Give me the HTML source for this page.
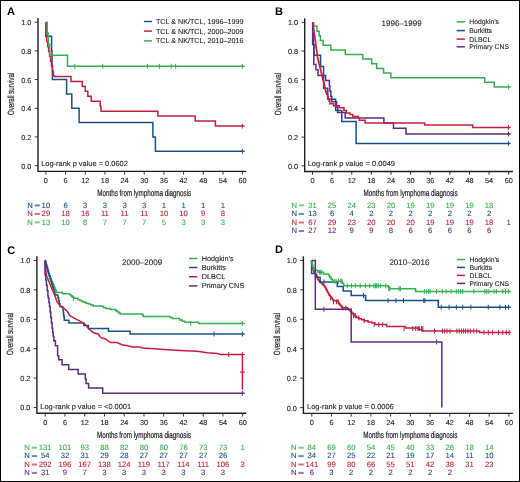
<!DOCTYPE html><html><head><meta charset="utf-8"><style>html,body{margin:0;padding:0;background:#fff}svg{display:block;will-change:transform}text{font-family:"Liberation Sans",sans-serif;text-rendering:geometricPrecision}</style></head><body>
<svg width="520" height="482" viewBox="0 0 520 482">
<rect x="0.5" y="0.5" width="519" height="481" fill="#fff" stroke="#000" stroke-width="1"/>
<text x="7.1" y="15.0" font-size="11" font-weight="bold" fill="#000">A</text>
<path d="M38 18.1 V171.4 H246.3" fill="none" stroke="#231f20" stroke-width="1.4"/>
<path d="M34.8 165.6 H38" stroke="#231f20" stroke-width="0.9"/>
<text x="31.4" y="168.6" font-size="7.3" text-anchor="end" fill="#231f20" stroke="#231f20" stroke-width="0.1" >0.0</text>
<path d="M34.8 136.92 H38" stroke="#231f20" stroke-width="0.9"/>
<text x="31.4" y="139.92" font-size="7.3" text-anchor="end" fill="#231f20" stroke="#231f20" stroke-width="0.1" >0.2</text>
<path d="M34.8 108.24 H38" stroke="#231f20" stroke-width="0.9"/>
<text x="31.4" y="111.24" font-size="7.3" text-anchor="end" fill="#231f20" stroke="#231f20" stroke-width="0.1" >0.4</text>
<path d="M34.8 79.56 H38" stroke="#231f20" stroke-width="0.9"/>
<text x="31.4" y="82.56" font-size="7.3" text-anchor="end" fill="#231f20" stroke="#231f20" stroke-width="0.1" >0.6</text>
<path d="M34.8 50.88 H38" stroke="#231f20" stroke-width="0.9"/>
<text x="31.4" y="53.88" font-size="7.3" text-anchor="end" fill="#231f20" stroke="#231f20" stroke-width="0.1" >0.8</text>
<path d="M34.8 22.2 H38" stroke="#231f20" stroke-width="0.9"/>
<text x="31.4" y="25.2" font-size="7.3" text-anchor="end" fill="#231f20" stroke="#231f20" stroke-width="0.1" >1.0</text>
<path d="M45.9 171.4 V174.6" stroke="#231f20" stroke-width="0.9"/>
<text x="45.9" y="183.1" font-size="7.3" text-anchor="middle" fill="#231f20" stroke="#231f20" stroke-width="0.1" >0</text>
<path d="M65.57 171.4 V174.6" stroke="#231f20" stroke-width="0.9"/>
<text x="65.57" y="183.1" font-size="7.3" text-anchor="middle" fill="#231f20" stroke="#231f20" stroke-width="0.1" >6</text>
<path d="M85.24 171.4 V174.6" stroke="#231f20" stroke-width="0.9"/>
<text x="85.24" y="183.1" font-size="7.3" text-anchor="middle" fill="#231f20" stroke="#231f20" stroke-width="0.1" >12</text>
<path d="M104.91 171.4 V174.6" stroke="#231f20" stroke-width="0.9"/>
<text x="104.91" y="183.1" font-size="7.3" text-anchor="middle" fill="#231f20" stroke="#231f20" stroke-width="0.1" >18</text>
<path d="M124.58 171.4 V174.6" stroke="#231f20" stroke-width="0.9"/>
<text x="124.58" y="183.1" font-size="7.3" text-anchor="middle" fill="#231f20" stroke="#231f20" stroke-width="0.1" >24</text>
<path d="M144.25 171.4 V174.6" stroke="#231f20" stroke-width="0.9"/>
<text x="144.25" y="183.1" font-size="7.3" text-anchor="middle" fill="#231f20" stroke="#231f20" stroke-width="0.1" >30</text>
<path d="M163.92 171.4 V174.6" stroke="#231f20" stroke-width="0.9"/>
<text x="163.92" y="183.1" font-size="7.3" text-anchor="middle" fill="#231f20" stroke="#231f20" stroke-width="0.1" >36</text>
<path d="M183.59 171.4 V174.6" stroke="#231f20" stroke-width="0.9"/>
<text x="183.59" y="183.1" font-size="7.3" text-anchor="middle" fill="#231f20" stroke="#231f20" stroke-width="0.1" >42</text>
<path d="M203.26 171.4 V174.6" stroke="#231f20" stroke-width="0.9"/>
<text x="203.26" y="183.1" font-size="7.3" text-anchor="middle" fill="#231f20" stroke="#231f20" stroke-width="0.1" >48</text>
<path d="M222.93 171.4 V174.6" stroke="#231f20" stroke-width="0.9"/>
<text x="222.93" y="183.1" font-size="7.3" text-anchor="middle" fill="#231f20" stroke="#231f20" stroke-width="0.1" >54</text>
<path d="M242.6 171.4 V174.6" stroke="#231f20" stroke-width="0.9"/>
<text x="242.6" y="183.1" font-size="7.3" text-anchor="middle" fill="#231f20" stroke="#231f20" stroke-width="0.1" >60</text>
<text transform="translate(144.25 196) scale(0.6986 1)" font-size="9" text-anchor="middle" fill="#231f20" stroke="#231f20" stroke-width="0.22">Months from lymphoma diagnosis</text>
<text transform="translate(14.2 93.9) rotate(-90) scale(0.6876 1)" font-size="9" text-anchor="middle" fill="#231f20" stroke="#231f20" stroke-width="0.18">Overall survival</text>
<path d="M143.9 21.5 H151.9" stroke="#1a5088" stroke-width="1.5"/>
<text x="155.9" y="24" font-size="7.2" text-anchor="start" fill="#231f20" stroke="#231f20" stroke-width="0.1" >TCL &amp; NK/TCL, 1996–1999</text>
<path d="M143.9 31.1 H151.9" stroke="#c81e3e" stroke-width="1.5"/>
<text x="155.9" y="33.6" font-size="7.2" text-anchor="start" fill="#231f20" stroke="#231f20" stroke-width="0.1" >TCL &amp; NK/TCL, 2000–2009</text>
<path d="M143.9 40.9 H151.9" stroke="#36b04c" stroke-width="1.5"/>
<text x="155.9" y="43.4" font-size="7.2" text-anchor="start" fill="#231f20" stroke="#231f20" stroke-width="0.1" >TCL &amp; NK/TCL, 2010–2016</text>
<text x="41.2" y="166.1" font-size="7.3" fill="#231f20" stroke="#231f20" stroke-width="0.1" textLength="86.7" lengthAdjust="spacingAndGlyphs">Log-rank p value = 0.0602</text>
<path d="M46.4 22.2 L46.8 22.2 L46.8 36.3 L51.6 36.3 L51.6 50.7 L52 50.7 L52 65 L52.4 65 L52.4 79.6 L66.6 79.6 L66.6 93.9 L71.8 93.9 L71.8 108.3 L79.1 108.3 L79.1 122.6 L152.9 122.6 L152.9 137 L155.4 137 L155.4 151.3 L242.3 151.3" fill="none" stroke="#1a5088" stroke-width="1.5" stroke-linejoin="miter"/>
<path d="M242.3 148.8 V153.8" stroke="#1a5088" stroke-width="1.0"/>
<path d="M45.8 22.2 L45.8 36.6 L46.75 36.6 L46.75 41.54 L47.7 41.54 L47.7 46.48 L48.65 46.48 L48.65 51.42 L49.6 51.42 L49.6 56.36 L50.55 56.36 L50.55 61.3 L51.5 61.3 L51.5 66.24 L52.45 66.24 L52.45 71.18 L53.4 71.18 L53.4 76.12 L54.6 76.12 L54.6 76.4 L71 76.4 L71 81.4 L82.3 81.4 L82.3 86.4 L85.3 86.4 L85.3 91.3 L87.8 91.3 L87.8 96.3 L91.3 96.3 L91.3 101.3 L100.2 101.3 L100.2 106.2 L101 106.2 L101 111.2 L157.9 111.2 L157.9 116.1 L195.2 116.1 L195.2 121.1 L215.4 121.1 L215.4 126.1 L242.3 126.1" fill="none" stroke="#c81e3e" stroke-width="1.5" stroke-linejoin="miter"/>
<path d="M242.3 123.6 V128.6" stroke="#c81e3e" stroke-width="1.0"/>
<path d="M47.1 22.2 L47.1 33.2 L48.3 33.2 L48.3 44.3 L49.6 44.3 L49.6 55.3 L67.5 55.3 L67.5 66.3 L242.3 66.3" fill="none" stroke="#36b04c" stroke-width="1.5" stroke-linejoin="miter"/>
<path d="M74.8 63.8 V68.8" stroke="#36b04c" stroke-width="1.0"/>
<path d="M102.7 63.8 V68.8" stroke="#36b04c" stroke-width="1.0"/>
<path d="M147.4 63.8 V68.8" stroke="#36b04c" stroke-width="1.0"/>
<path d="M159.4 63.8 V68.8" stroke="#36b04c" stroke-width="1.0"/>
<path d="M171.1 63.8 V68.8" stroke="#36b04c" stroke-width="1.0"/>
<path d="M175.6 63.8 V68.8" stroke="#36b04c" stroke-width="1.0"/>
<path d="M242.3 63.8 V68.8" stroke="#36b04c" stroke-width="1.0"/>
<path d="M241.8 151.3 H244.6" stroke="#1a5088" stroke-width="1.5"/>
<path d="M241.8 126.1 H244.6" stroke="#c81e3e" stroke-width="1.5"/>
<path d="M241.8 66.3 H244.6" stroke="#36b04c" stroke-width="1.5"/>
<text x="27.3" y="207.7" font-size="7.7" text-anchor="start" fill="#1a5088" stroke="#1a5088" stroke-width="0.1" >N</text>
<rect x="34.6" y="204.4" width="5.2" height="2.0" fill="#1a5088" opacity="0.65"/>
<text x="45.9" y="207.7" font-size="7.7" text-anchor="middle" fill="#1a5088" stroke="#1a5088" stroke-width="0.1" >10</text>
<text x="65.57" y="207.7" font-size="7.7" text-anchor="middle" fill="#1a5088" stroke="#1a5088" stroke-width="0.1" >6</text>
<text x="85.24" y="207.7" font-size="7.7" text-anchor="middle" fill="#1a5088" stroke="#1a5088" stroke-width="0.1" >3</text>
<text x="104.91" y="207.7" font-size="7.7" text-anchor="middle" fill="#1a5088" stroke="#1a5088" stroke-width="0.1" >3</text>
<text x="124.58" y="207.7" font-size="7.7" text-anchor="middle" fill="#1a5088" stroke="#1a5088" stroke-width="0.1" >3</text>
<text x="144.25" y="207.7" font-size="7.7" text-anchor="middle" fill="#1a5088" stroke="#1a5088" stroke-width="0.1" >3</text>
<text x="163.92" y="207.7" font-size="7.7" text-anchor="middle" fill="#1a5088" stroke="#1a5088" stroke-width="0.1" >1</text>
<text x="183.59" y="207.7" font-size="7.7" text-anchor="middle" fill="#1a5088" stroke="#1a5088" stroke-width="0.1" >1</text>
<text x="203.26" y="207.7" font-size="7.7" text-anchor="middle" fill="#1a5088" stroke="#1a5088" stroke-width="0.1" >1</text>
<text x="222.93" y="207.7" font-size="7.7" text-anchor="middle" fill="#1a5088" stroke="#1a5088" stroke-width="0.1" >1</text>
<text x="27.3" y="216.2" font-size="7.7" text-anchor="start" fill="#c81e3e" stroke="#c81e3e" stroke-width="0.1" >N</text>
<rect x="34.6" y="212.9" width="5.2" height="2.0" fill="#c81e3e" opacity="0.65"/>
<text x="45.9" y="216.2" font-size="7.7" text-anchor="middle" fill="#c81e3e" stroke="#c81e3e" stroke-width="0.1" >29</text>
<text x="65.57" y="216.2" font-size="7.7" text-anchor="middle" fill="#c81e3e" stroke="#c81e3e" stroke-width="0.1" >18</text>
<text x="85.24" y="216.2" font-size="7.7" text-anchor="middle" fill="#c81e3e" stroke="#c81e3e" stroke-width="0.1" >16</text>
<text x="104.91" y="216.2" font-size="7.7" text-anchor="middle" fill="#c81e3e" stroke="#c81e3e" stroke-width="0.1" >11</text>
<text x="124.58" y="216.2" font-size="7.7" text-anchor="middle" fill="#c81e3e" stroke="#c81e3e" stroke-width="0.1" >11</text>
<text x="144.25" y="216.2" font-size="7.7" text-anchor="middle" fill="#c81e3e" stroke="#c81e3e" stroke-width="0.1" >11</text>
<text x="163.92" y="216.2" font-size="7.7" text-anchor="middle" fill="#c81e3e" stroke="#c81e3e" stroke-width="0.1" >10</text>
<text x="183.59" y="216.2" font-size="7.7" text-anchor="middle" fill="#c81e3e" stroke="#c81e3e" stroke-width="0.1" >10</text>
<text x="203.26" y="216.2" font-size="7.7" text-anchor="middle" fill="#c81e3e" stroke="#c81e3e" stroke-width="0.1" >9</text>
<text x="222.93" y="216.2" font-size="7.7" text-anchor="middle" fill="#c81e3e" stroke="#c81e3e" stroke-width="0.1" >8</text>
<text x="27.3" y="224.7" font-size="7.7" text-anchor="start" fill="#36b04c" stroke="#36b04c" stroke-width="0.1" >N</text>
<rect x="34.6" y="221.4" width="5.2" height="2.0" fill="#36b04c" opacity="0.65"/>
<text x="45.9" y="224.7" font-size="7.7" text-anchor="middle" fill="#36b04c" stroke="#36b04c" stroke-width="0.1" >13</text>
<text x="65.57" y="224.7" font-size="7.7" text-anchor="middle" fill="#36b04c" stroke="#36b04c" stroke-width="0.1" >10</text>
<text x="85.24" y="224.7" font-size="7.7" text-anchor="middle" fill="#36b04c" stroke="#36b04c" stroke-width="0.1" >8</text>
<text x="104.91" y="224.7" font-size="7.7" text-anchor="middle" fill="#36b04c" stroke="#36b04c" stroke-width="0.1" >7</text>
<text x="124.58" y="224.7" font-size="7.7" text-anchor="middle" fill="#36b04c" stroke="#36b04c" stroke-width="0.1" >7</text>
<text x="144.25" y="224.7" font-size="7.7" text-anchor="middle" fill="#36b04c" stroke="#36b04c" stroke-width="0.1" >7</text>
<text x="163.92" y="224.7" font-size="7.7" text-anchor="middle" fill="#36b04c" stroke="#36b04c" stroke-width="0.1" >5</text>
<text x="183.59" y="224.7" font-size="7.7" text-anchor="middle" fill="#36b04c" stroke="#36b04c" stroke-width="0.1" >3</text>
<text x="203.26" y="224.7" font-size="7.7" text-anchor="middle" fill="#36b04c" stroke="#36b04c" stroke-width="0.1" >3</text>
<text x="222.93" y="224.7" font-size="7.7" text-anchor="middle" fill="#36b04c" stroke="#36b04c" stroke-width="0.1" >3</text>
<text x="275.1" y="15.0" font-size="11" font-weight="bold" fill="#000">B</text>
<path d="M304.7 18.3 V171.5 H512.9" fill="none" stroke="#231f20" stroke-width="1.4"/>
<path d="M301.5 165.8 H304.7" stroke="#231f20" stroke-width="0.9"/>
<text x="298.1" y="168.8" font-size="7.3" text-anchor="end" fill="#231f20" stroke="#231f20" stroke-width="0.1" >0.0</text>
<path d="M301.5 137.1 H304.7" stroke="#231f20" stroke-width="0.9"/>
<text x="298.1" y="140.1" font-size="7.3" text-anchor="end" fill="#231f20" stroke="#231f20" stroke-width="0.1" >0.2</text>
<path d="M301.5 108.4 H304.7" stroke="#231f20" stroke-width="0.9"/>
<text x="298.1" y="111.4" font-size="7.3" text-anchor="end" fill="#231f20" stroke="#231f20" stroke-width="0.1" >0.4</text>
<path d="M301.5 79.7 H304.7" stroke="#231f20" stroke-width="0.9"/>
<text x="298.1" y="82.7" font-size="7.3" text-anchor="end" fill="#231f20" stroke="#231f20" stroke-width="0.1" >0.6</text>
<path d="M301.5 51 H304.7" stroke="#231f20" stroke-width="0.9"/>
<text x="298.1" y="54" font-size="7.3" text-anchor="end" fill="#231f20" stroke="#231f20" stroke-width="0.1" >0.8</text>
<path d="M301.5 22.3 H304.7" stroke="#231f20" stroke-width="0.9"/>
<text x="298.1" y="25.3" font-size="7.3" text-anchor="end" fill="#231f20" stroke="#231f20" stroke-width="0.1" >1.0</text>
<path d="M312.5 171.5 V174.7" stroke="#231f20" stroke-width="0.9"/>
<text x="312.5" y="183.2" font-size="7.3" text-anchor="middle" fill="#231f20" stroke="#231f20" stroke-width="0.1" >0</text>
<path d="M332.12 171.5 V174.7" stroke="#231f20" stroke-width="0.9"/>
<text x="332.12" y="183.2" font-size="7.3" text-anchor="middle" fill="#231f20" stroke="#231f20" stroke-width="0.1" >6</text>
<path d="M351.74 171.5 V174.7" stroke="#231f20" stroke-width="0.9"/>
<text x="351.74" y="183.2" font-size="7.3" text-anchor="middle" fill="#231f20" stroke="#231f20" stroke-width="0.1" >12</text>
<path d="M371.36 171.5 V174.7" stroke="#231f20" stroke-width="0.9"/>
<text x="371.36" y="183.2" font-size="7.3" text-anchor="middle" fill="#231f20" stroke="#231f20" stroke-width="0.1" >18</text>
<path d="M390.98 171.5 V174.7" stroke="#231f20" stroke-width="0.9"/>
<text x="390.98" y="183.2" font-size="7.3" text-anchor="middle" fill="#231f20" stroke="#231f20" stroke-width="0.1" >24</text>
<path d="M410.6 171.5 V174.7" stroke="#231f20" stroke-width="0.9"/>
<text x="410.6" y="183.2" font-size="7.3" text-anchor="middle" fill="#231f20" stroke="#231f20" stroke-width="0.1" >30</text>
<path d="M430.22 171.5 V174.7" stroke="#231f20" stroke-width="0.9"/>
<text x="430.22" y="183.2" font-size="7.3" text-anchor="middle" fill="#231f20" stroke="#231f20" stroke-width="0.1" >36</text>
<path d="M449.84 171.5 V174.7" stroke="#231f20" stroke-width="0.9"/>
<text x="449.84" y="183.2" font-size="7.3" text-anchor="middle" fill="#231f20" stroke="#231f20" stroke-width="0.1" >42</text>
<path d="M469.46 171.5 V174.7" stroke="#231f20" stroke-width="0.9"/>
<text x="469.46" y="183.2" font-size="7.3" text-anchor="middle" fill="#231f20" stroke="#231f20" stroke-width="0.1" >48</text>
<path d="M489.08 171.5 V174.7" stroke="#231f20" stroke-width="0.9"/>
<text x="489.08" y="183.2" font-size="7.3" text-anchor="middle" fill="#231f20" stroke="#231f20" stroke-width="0.1" >54</text>
<path d="M508.7 171.5 V174.7" stroke="#231f20" stroke-width="0.9"/>
<text x="508.7" y="183.2" font-size="7.3" text-anchor="middle" fill="#231f20" stroke="#231f20" stroke-width="0.1" >60</text>
<text transform="translate(410.6 196.1) scale(0.6986 1)" font-size="9" text-anchor="middle" fill="#231f20" stroke="#231f20" stroke-width="0.22">Months from lymphoma diagnosis</text>
<text transform="translate(280.9 94.05) rotate(-90) scale(0.6876 1)" font-size="9" text-anchor="middle" fill="#231f20" stroke="#231f20" stroke-width="0.18">Overall survival</text>
<text x="381.6" y="26.1" font-size="8.0" fill="#231f20" stroke="#231f20" stroke-width="0.1">1996–1999</text>
<path d="M456.6 21.9 H464.9" stroke="#36b04c" stroke-width="1.5"/>
<text x="469.3" y="24.4" font-size="6.8" text-anchor="start" fill="#231f20" stroke="#231f20" stroke-width="0.1" >Hodgkin’s</text>
<path d="M456.6 30.6 H464.9" stroke="#1a5088" stroke-width="1.5"/>
<text x="469.3" y="33.1" font-size="6.8" text-anchor="start" fill="#231f20" stroke="#231f20" stroke-width="0.1" >Burkitts</text>
<path d="M456.6 39.1 H464.9" stroke="#c81e3e" stroke-width="1.5"/>
<text x="469.3" y="41.6" font-size="6.8" text-anchor="start" fill="#231f20" stroke="#231f20" stroke-width="0.1" >DLBCL</text>
<path d="M456.6 46.8 H464.9" stroke="#5e2c82" stroke-width="1.5"/>
<text x="469.3" y="49.3" font-size="6.8" text-anchor="start" fill="#231f20" stroke="#231f20" stroke-width="0.1" >Primary CNS</text>
<text x="307.7" y="166.3" font-size="7.3" fill="#231f20" stroke="#231f20" stroke-width="0.1" textLength="87.3" lengthAdjust="spacingAndGlyphs">Log-rank p value = 0.0049</text>
<path d="M313.8 22.3 L313.8 26.3 L317 26.3 L317 31.3 L319.2 31.3 L319.2 35.8 L320.4 35.8 L320.4 40.4 L323.1 40.4 L323.1 45.2 L330.8 45.2 L330.8 50 L345.3 50 L345.3 54.5 L362.8 54.5 L362.8 59.1 L371.7 59.1 L371.7 63.8 L376.7 63.8 L376.7 68.5 L383.6 68.5 L383.6 73.1 L390.9 73.1 L390.9 77.7 L484.7 77.7 L484.7 82.3 L494.3 82.3 L494.3 87 L508.4 87" fill="none" stroke="#36b04c" stroke-width="1.5" stroke-linejoin="miter"/>
<path d="M508.4 84.5 V89.5" stroke="#36b04c" stroke-width="1.0"/>
<path d="M312.8 22.3 L312.8 33.3 L313.4 33.3 L313.4 44.4 L314 44.4 L314 55.3 L320.6 55.3 L320.6 66.5 L323.6 66.5 L323.6 88.3 L327.8 88.3 L327.8 99.3 L335.6 99.3 L335.6 110.4 L341.8 110.4 L341.8 121.5 L356.1 121.5 L356.1 143.5 L508.4 143.5" fill="none" stroke="#1a5088" stroke-width="1.5" stroke-linejoin="miter"/>
<path d="M508.4 141 V146" stroke="#1a5088" stroke-width="1.0"/>
<path d="M312.6 22.3 L312.6 44.6 L313.8 44.6 L313.8 64.4 L315.9 64.4 L315.9 69.8 L318 69.8 L318 75.4 L325.6 75.4 L325.6 80.6 L329.4 80.6 L329.4 85.9 L329.9 85.9 L329.9 91.2 L330.9 91.2 L330.9 96.5 L331.8 96.5 L331.8 101.8 L336.6 101.8 L336.6 107.1 L337.6 107.1 L337.6 112.5 L345.2 112.5 L345.2 118 L383.9 118 L383.9 123 L393.5 123 L393.5 128.3 L406 128.3 L406 134 L508.4 134" fill="none" stroke="#5e2c82" stroke-width="1.5" stroke-linejoin="miter"/>
<path d="M508.4 131.5 V136.5" stroke="#5e2c82" stroke-width="1.0"/>
<path d="M313 22.3 L313 24.6 L313.28 24.6 L313.28 26.69 L313.56 26.69 L313.56 28.78 L313.84 28.78 L313.84 30.86 L314.12 30.86 L314.12 32.95 L314.41 32.95 L314.41 35.04 L314.69 35.04 L314.69 37.12 L314.97 37.12 L314.97 39.21 L315.25 39.21 L315.25 41.3 L315.53 41.3 L315.53 43.39 L315.81 43.39 L315.81 45.48 L316.09 45.48 L316.09 47.56 L316.38 47.56 L316.38 49.65 L316.66 49.65 L316.66 51.74 L316.94 51.74 L316.94 53.83 L317.22 53.83 L317.22 55.91 L317.5 55.91 L317.5 58 L318.02 58 L318.02 60.12 L318.54 60.12 L318.54 62.25 L319.06 62.25 L319.06 64.38 L319.57 64.38 L319.57 66.5 L320.09 66.5 L320.09 68.62 L320.61 68.62 L320.61 70.75 L321.13 70.75 L321.13 72.88 L321.65 72.88 L321.65 75 L322.17 75 L322.17 77.12 L322.69 77.12 L322.69 79.25 L323.21 79.25 L323.21 81.38 L323.73 81.38 L323.73 83.5 L324.24 83.5 L324.24 85.62 L324.76 85.62 L324.76 87.75 L325.28 87.75 L325.28 89.88 L325.8 89.88 L325.8 92 L326.62 92 L326.62 94.34 L327.44 94.34 L327.44 96.68 L328.26 96.68 L328.26 99.02 L329.08 99.02 L329.08 101.36 L329.9 101.36 L329.9 103.7 L333.5 103.7 L333.5 105.7 L339.2 105.7 L339.2 107.8 L343.9 107.8 L343.9 110.4 L346.5 110.4 L346.5 113 L350.1 113 L350.1 114.6 L352.7 114.6 L352.7 116.6 L358.4 116.6 L358.4 118.2 L359.4 118.2 L359.4 120.3 L364.6 120.3 L365.1 120.3 L365.1 122.9 L424.7 122.9 L424.7 124.9 L472.7 124.9 L472.7 127.5 L508.4 127.5" fill="none" stroke="#c81e3e" stroke-width="1.5" stroke-linejoin="miter"/>
<path d="M508.4 125 V130" stroke="#c81e3e" stroke-width="1.0"/>
<path d="M507.9 87 H510.7" stroke="#36b04c" stroke-width="1.5"/>
<path d="M507.9 143.5 H510.7" stroke="#1a5088" stroke-width="1.5"/>
<path d="M507.9 134 H510.7" stroke="#5e2c82" stroke-width="1.5"/>
<path d="M507.9 127.5 H510.7" stroke="#c81e3e" stroke-width="1.5"/>
<text x="291.5" y="207.7" font-size="7.7" text-anchor="start" fill="#36b04c" stroke="#36b04c" stroke-width="0.1" >N</text>
<rect x="298.8" y="204.4" width="5.2" height="2.0" fill="#36b04c" opacity="0.65"/>
<text x="312.5" y="207.7" font-size="7.7" text-anchor="middle" fill="#36b04c" stroke="#36b04c" stroke-width="0.1" >31</text>
<text x="332.12" y="207.7" font-size="7.7" text-anchor="middle" fill="#36b04c" stroke="#36b04c" stroke-width="0.1" >25</text>
<text x="351.74" y="207.7" font-size="7.7" text-anchor="middle" fill="#36b04c" stroke="#36b04c" stroke-width="0.1" >24</text>
<text x="371.36" y="207.7" font-size="7.7" text-anchor="middle" fill="#36b04c" stroke="#36b04c" stroke-width="0.1" >23</text>
<text x="390.98" y="207.7" font-size="7.7" text-anchor="middle" fill="#36b04c" stroke="#36b04c" stroke-width="0.1" >20</text>
<text x="410.6" y="207.7" font-size="7.7" text-anchor="middle" fill="#36b04c" stroke="#36b04c" stroke-width="0.1" >19</text>
<text x="430.22" y="207.7" font-size="7.7" text-anchor="middle" fill="#36b04c" stroke="#36b04c" stroke-width="0.1" >19</text>
<text x="449.84" y="207.7" font-size="7.7" text-anchor="middle" fill="#36b04c" stroke="#36b04c" stroke-width="0.1" >19</text>
<text x="469.46" y="207.7" font-size="7.7" text-anchor="middle" fill="#36b04c" stroke="#36b04c" stroke-width="0.1" >19</text>
<text x="489.08" y="207.7" font-size="7.7" text-anchor="middle" fill="#36b04c" stroke="#36b04c" stroke-width="0.1" >18</text>
<text x="291.5" y="216.25" font-size="7.7" text-anchor="start" fill="#1a5088" stroke="#1a5088" stroke-width="0.1" >N</text>
<rect x="298.8" y="212.95" width="5.2" height="2.0" fill="#1a5088" opacity="0.65"/>
<text x="312.5" y="216.25" font-size="7.7" text-anchor="middle" fill="#1a5088" stroke="#1a5088" stroke-width="0.1" >13</text>
<text x="332.12" y="216.25" font-size="7.7" text-anchor="middle" fill="#1a5088" stroke="#1a5088" stroke-width="0.1" >6</text>
<text x="351.74" y="216.25" font-size="7.7" text-anchor="middle" fill="#1a5088" stroke="#1a5088" stroke-width="0.1" >4</text>
<text x="371.36" y="216.25" font-size="7.7" text-anchor="middle" fill="#1a5088" stroke="#1a5088" stroke-width="0.1" >2</text>
<text x="390.98" y="216.25" font-size="7.7" text-anchor="middle" fill="#1a5088" stroke="#1a5088" stroke-width="0.1" >2</text>
<text x="410.6" y="216.25" font-size="7.7" text-anchor="middle" fill="#1a5088" stroke="#1a5088" stroke-width="0.1" >2</text>
<text x="430.22" y="216.25" font-size="7.7" text-anchor="middle" fill="#1a5088" stroke="#1a5088" stroke-width="0.1" >2</text>
<text x="449.84" y="216.25" font-size="7.7" text-anchor="middle" fill="#1a5088" stroke="#1a5088" stroke-width="0.1" >2</text>
<text x="469.46" y="216.25" font-size="7.7" text-anchor="middle" fill="#1a5088" stroke="#1a5088" stroke-width="0.1" >2</text>
<text x="489.08" y="216.25" font-size="7.7" text-anchor="middle" fill="#1a5088" stroke="#1a5088" stroke-width="0.1" >2</text>
<text x="291.5" y="224.8" font-size="7.7" text-anchor="start" fill="#c81e3e" stroke="#c81e3e" stroke-width="0.1" >N</text>
<rect x="298.8" y="221.5" width="5.2" height="2.0" fill="#c81e3e" opacity="0.65"/>
<text x="312.5" y="224.8" font-size="7.7" text-anchor="middle" fill="#c81e3e" stroke="#c81e3e" stroke-width="0.1" >67</text>
<text x="332.12" y="224.8" font-size="7.7" text-anchor="middle" fill="#c81e3e" stroke="#c81e3e" stroke-width="0.1" >29</text>
<text x="351.74" y="224.8" font-size="7.7" text-anchor="middle" fill="#c81e3e" stroke="#c81e3e" stroke-width="0.1" >23</text>
<text x="371.36" y="224.8" font-size="7.7" text-anchor="middle" fill="#c81e3e" stroke="#c81e3e" stroke-width="0.1" >20</text>
<text x="390.98" y="224.8" font-size="7.7" text-anchor="middle" fill="#c81e3e" stroke="#c81e3e" stroke-width="0.1" >20</text>
<text x="410.6" y="224.8" font-size="7.7" text-anchor="middle" fill="#c81e3e" stroke="#c81e3e" stroke-width="0.1" >20</text>
<text x="430.22" y="224.8" font-size="7.7" text-anchor="middle" fill="#c81e3e" stroke="#c81e3e" stroke-width="0.1" >19</text>
<text x="449.84" y="224.8" font-size="7.7" text-anchor="middle" fill="#c81e3e" stroke="#c81e3e" stroke-width="0.1" >19</text>
<text x="469.46" y="224.8" font-size="7.7" text-anchor="middle" fill="#c81e3e" stroke="#c81e3e" stroke-width="0.1" >19</text>
<text x="489.08" y="224.8" font-size="7.7" text-anchor="middle" fill="#c81e3e" stroke="#c81e3e" stroke-width="0.1" >18</text>
<text x="508.7" y="224.8" font-size="7.7" text-anchor="middle" fill="#c81e3e" stroke="#c81e3e" stroke-width="0.1" >1</text>
<text x="291.5" y="233.35" font-size="7.7" text-anchor="start" fill="#5e2c82" stroke="#5e2c82" stroke-width="0.1" >N</text>
<rect x="298.8" y="230.05" width="5.2" height="2.0" fill="#5e2c82" opacity="0.65"/>
<text x="312.5" y="233.35" font-size="7.7" text-anchor="middle" fill="#5e2c82" stroke="#5e2c82" stroke-width="0.1" >27</text>
<text x="332.12" y="233.35" font-size="7.7" text-anchor="middle" fill="#5e2c82" stroke="#5e2c82" stroke-width="0.1" >12</text>
<text x="351.74" y="233.35" font-size="7.7" text-anchor="middle" fill="#5e2c82" stroke="#5e2c82" stroke-width="0.1" >9</text>
<text x="371.36" y="233.35" font-size="7.7" text-anchor="middle" fill="#5e2c82" stroke="#5e2c82" stroke-width="0.1" >9</text>
<text x="390.98" y="233.35" font-size="7.7" text-anchor="middle" fill="#5e2c82" stroke="#5e2c82" stroke-width="0.1" >8</text>
<text x="410.6" y="233.35" font-size="7.7" text-anchor="middle" fill="#5e2c82" stroke="#5e2c82" stroke-width="0.1" >6</text>
<text x="430.22" y="233.35" font-size="7.7" text-anchor="middle" fill="#5e2c82" stroke="#5e2c82" stroke-width="0.1" >6</text>
<text x="449.84" y="233.35" font-size="7.7" text-anchor="middle" fill="#5e2c82" stroke="#5e2c82" stroke-width="0.1" >6</text>
<text x="469.46" y="233.35" font-size="7.7" text-anchor="middle" fill="#5e2c82" stroke="#5e2c82" stroke-width="0.1" >6</text>
<text x="489.08" y="233.35" font-size="7.7" text-anchor="middle" fill="#5e2c82" stroke="#5e2c82" stroke-width="0.1" >6</text>
<text x="7.2" y="253.6" font-size="11" font-weight="bold" fill="#000">C</text>
<path d="M36.9 256.2 V413.3 H246.3" fill="none" stroke="#231f20" stroke-width="1.4"/>
<path d="M33.7 407.45 H36.9" stroke="#231f20" stroke-width="0.9"/>
<text x="30.3" y="410.45" font-size="7.3" text-anchor="end" fill="#231f20" stroke="#231f20" stroke-width="0.1" >0.0</text>
<path d="M33.7 378.05 H36.9" stroke="#231f20" stroke-width="0.9"/>
<text x="30.3" y="381.05" font-size="7.3" text-anchor="end" fill="#231f20" stroke="#231f20" stroke-width="0.1" >0.2</text>
<path d="M33.7 348.65 H36.9" stroke="#231f20" stroke-width="0.9"/>
<text x="30.3" y="351.65" font-size="7.3" text-anchor="end" fill="#231f20" stroke="#231f20" stroke-width="0.1" >0.4</text>
<path d="M33.7 319.25 H36.9" stroke="#231f20" stroke-width="0.9"/>
<text x="30.3" y="322.25" font-size="7.3" text-anchor="end" fill="#231f20" stroke="#231f20" stroke-width="0.1" >0.6</text>
<path d="M33.7 289.85 H36.9" stroke="#231f20" stroke-width="0.9"/>
<text x="30.3" y="292.85" font-size="7.3" text-anchor="end" fill="#231f20" stroke="#231f20" stroke-width="0.1" >0.8</text>
<path d="M33.7 260.45 H36.9" stroke="#231f20" stroke-width="0.9"/>
<text x="30.3" y="263.45" font-size="7.3" text-anchor="end" fill="#231f20" stroke="#231f20" stroke-width="0.1" >1.0</text>
<path d="M45.2 413.3 V416.5" stroke="#231f20" stroke-width="0.9"/>
<text x="45.2" y="425" font-size="7.3" text-anchor="middle" fill="#231f20" stroke="#231f20" stroke-width="0.1" >0</text>
<path d="M64.95 413.3 V416.5" stroke="#231f20" stroke-width="0.9"/>
<text x="64.95" y="425" font-size="7.3" text-anchor="middle" fill="#231f20" stroke="#231f20" stroke-width="0.1" >6</text>
<path d="M84.7 413.3 V416.5" stroke="#231f20" stroke-width="0.9"/>
<text x="84.7" y="425" font-size="7.3" text-anchor="middle" fill="#231f20" stroke="#231f20" stroke-width="0.1" >12</text>
<path d="M104.45 413.3 V416.5" stroke="#231f20" stroke-width="0.9"/>
<text x="104.45" y="425" font-size="7.3" text-anchor="middle" fill="#231f20" stroke="#231f20" stroke-width="0.1" >18</text>
<path d="M124.2 413.3 V416.5" stroke="#231f20" stroke-width="0.9"/>
<text x="124.2" y="425" font-size="7.3" text-anchor="middle" fill="#231f20" stroke="#231f20" stroke-width="0.1" >24</text>
<path d="M143.95 413.3 V416.5" stroke="#231f20" stroke-width="0.9"/>
<text x="143.95" y="425" font-size="7.3" text-anchor="middle" fill="#231f20" stroke="#231f20" stroke-width="0.1" >30</text>
<path d="M163.7 413.3 V416.5" stroke="#231f20" stroke-width="0.9"/>
<text x="163.7" y="425" font-size="7.3" text-anchor="middle" fill="#231f20" stroke="#231f20" stroke-width="0.1" >36</text>
<path d="M183.45 413.3 V416.5" stroke="#231f20" stroke-width="0.9"/>
<text x="183.45" y="425" font-size="7.3" text-anchor="middle" fill="#231f20" stroke="#231f20" stroke-width="0.1" >42</text>
<path d="M203.2 413.3 V416.5" stroke="#231f20" stroke-width="0.9"/>
<text x="203.2" y="425" font-size="7.3" text-anchor="middle" fill="#231f20" stroke="#231f20" stroke-width="0.1" >48</text>
<path d="M222.95 413.3 V416.5" stroke="#231f20" stroke-width="0.9"/>
<text x="222.95" y="425" font-size="7.3" text-anchor="middle" fill="#231f20" stroke="#231f20" stroke-width="0.1" >54</text>
<path d="M242.7 413.3 V416.5" stroke="#231f20" stroke-width="0.9"/>
<text x="242.7" y="425" font-size="7.3" text-anchor="middle" fill="#231f20" stroke="#231f20" stroke-width="0.1" >60</text>
<text transform="translate(143.95 437.9) scale(0.6986 1)" font-size="9" text-anchor="middle" fill="#231f20" stroke="#231f20" stroke-width="0.22">Months from lymphoma diagnosis</text>
<text transform="translate(13.1 333.95) rotate(-90) scale(0.6876 1)" font-size="9" text-anchor="middle" fill="#231f20" stroke="#231f20" stroke-width="0.18">Overall survival</text>
<text x="122.1" y="264.6" font-size="8.0" fill="#231f20" stroke="#231f20" stroke-width="0.1">2000–2009</text>
<path d="M189 258.5 H197.3" stroke="#36b04c" stroke-width="1.5"/>
<text x="201.7" y="261" font-size="7.3" text-anchor="start" fill="#231f20" stroke="#231f20" stroke-width="0.1" >Hodgkin’s</text>
<path d="M189 267.5 H197.3" stroke="#1a5088" stroke-width="1.5"/>
<text x="201.7" y="270" font-size="7.3" text-anchor="start" fill="#231f20" stroke="#231f20" stroke-width="0.1" >Burkitts</text>
<path d="M189 276.7 H197.3" stroke="#c81e3e" stroke-width="1.5"/>
<text x="201.7" y="279.2" font-size="7.3" text-anchor="start" fill="#231f20" stroke="#231f20" stroke-width="0.1" >DLBCL</text>
<path d="M189 285.9 H197.3" stroke="#5e2c82" stroke-width="1.5"/>
<text x="201.7" y="288.4" font-size="7.3" text-anchor="start" fill="#231f20" stroke="#231f20" stroke-width="0.1" >Primary CNS</text>
<text x="40.3" y="408.8" font-size="7.3" fill="#231f20" stroke="#231f20" stroke-width="0.1" textLength="90.8" lengthAdjust="spacingAndGlyphs">Log-rank p value = &lt;0.0001</text>
<path d="M45.5 260.5 L45.67 260.5 L45.67 261.77 L45.83 261.77 L45.83 263.03 L46 263.03 L46 264.3 L46.31 264.3 L46.31 265.46 L46.62 265.46 L46.62 266.62 L46.93 266.62 L46.93 267.78 L47.24 267.78 L47.24 268.94 L47.55 268.94 L47.55 270.1 L47.86 270.1 L47.86 271.26 L48.17 271.26 L48.17 272.42 L48.48 272.42 L48.48 273.58 L48.79 273.58 L48.79 274.74 L49.1 274.74 L49.1 275.9 L49.6 275.9 L49.6 277.01 L50.1 277.01 L50.1 278.11 L50.6 278.11 L50.6 279.22 L51.1 279.22 L51.1 280.33 L51.6 280.33 L51.6 281.43 L52.1 281.43 L52.1 282.54 L52.6 282.54 L52.6 283.65 L53.1 283.65 L53.1 284.75 L53.6 284.75 L53.6 285.86 L54.1 285.86 L54.1 286.97 L54.6 286.97 L54.6 288.07 L55.1 288.07 L55.1 289.18 L55.6 289.18 L55.6 290.29 L56.1 290.29 L56.1 291.39 L56.6 291.39 L56.6 292.5 L61.6 292.5 L62.4 292.5 L62.4 293.7 L68.3 293.7 L69.7 293.7 L69.7 294.85 L71.1 294.85 L71.1 296 L72.3 296 L72.3 297.15 L73.5 297.15 L73.5 298.3 L76.3 298.3 L78.05 298.3 L78.05 299.45 L79.8 299.45 L79.8 300.6 L81.8 300.6 L81.8 301.45 L83.8 301.45 L83.8 302.3 L86.1 302.3 L86.1 303.15 L88.4 303.15 L88.4 304 L90.75 304 L90.75 305.05 L93.1 305.05 L93.1 306.1 L101.1 306.1 L101.1 306.3 L103.4 306.3 L103.4 307.45 L105.7 307.45 L105.7 308.6 L110.4 308.6 L110.4 309.6 L115.8 309.6 L115.8 310.7 L117.27 310.7 L117.27 311.83 L118.73 311.83 L118.73 312.97 L120.2 312.97 L120.2 314.1 L141.9 314.1 L142.65 314.1 L142.65 315.3 L143.4 315.3 L143.4 316.5 L168.1 316.5 L170.25 316.5 L170.25 317.5 L172.4 317.5 L172.4 318.5 L179.7 318.5 L179.7 320 L182.3 320 L182.3 321.15 L184.9 321.15 L184.9 322.3 L197.1 322.3 L198.6 322.3 L198.6 323.5 L242.4 323.5" fill="none" stroke="#36b04c" stroke-width="1.5" stroke-linejoin="miter"/>
<path d="M73.6 295.8 V300.8" stroke="#36b04c" stroke-width="1.0"/>
<path d="M190.7 321 V326" stroke="#36b04c" stroke-width="1.0"/>
<path d="M242.4 321 V326" stroke="#36b04c" stroke-width="1.0"/>
<path d="M45.2 260.5 L45.4 260.5 L45.4 262.6 L46.19 262.6 L46.19 265.3 L46.98 265.3 L46.98 268 L47.77 268 L47.77 270.7 L48.57 270.7 L48.57 273.4 L49.36 273.4 L49.36 276.1 L50.15 276.1 L50.15 278.8 L50.94 278.8 L50.94 281.5 L51.73 281.5 L51.73 284.2 L52.52 284.2 L52.52 286.9 L53.32 286.9 L53.32 289.6 L54.11 289.6 L54.11 292.3 L54.9 292.3 L54.9 295 L57.4 295 L57.4 295.4 L58.05 295.4 L58.05 298.1 L58.7 298.1 L58.7 300.8 L59.3 300.8 L59.3 303.7 L59.9 303.7 L59.9 306.6 L62.7 306.6 L62.7 307.7 L63.02 307.7 L63.02 310.2 L63.34 310.2 L63.34 312.7 L63.66 312.7 L63.66 315.2 L63.98 315.2 L63.98 317.7 L64.3 317.7 L64.3 320.2 L68.9 320.2 L68.9 323 L83.8 323 L83.8 325.6 L88.4 325.6 L88.4 328.6 L108.5 328.6 L108.5 331.3 L130.1 331.3 L130.1 334 L242.4 334" fill="none" stroke="#1a5088" stroke-width="1.5" stroke-linejoin="miter"/>
<path d="M214.1 331.5 V336.5" stroke="#1a5088" stroke-width="1.0"/>
<path d="M242.4 331.5 V336.5" stroke="#1a5088" stroke-width="1.0"/>
<path d="M45.3 260.5 L45.3 266 L46.6 275.9 L48.3 280 L52.4 290 L55 296 L57.3 302.3 L60.8 306.5 L64.6 308.9 L67.6 311.8 L69.4 315.2 L72.8 317.3 L77.1 319.7 L82.9 322.6 L85.8 325 L88.7 328.8 L93.5 332.7 L98.3 334 L99.8 336.5 L101.7 338 L104.6 338.5 L107.5 340.4 L110.4 342.6 L117.1 342.6 L121.9 344.7 L127.7 345.7 L132.5 346.9 L140.2 347.1 L142.1 347.9 L150.7 348.4 L171 349.9 L185.5 350.7 L197.1 351.3 L207.3 352.8 L217.5 353.4 L220.4 354.5 L242.4 354.5 L242.4 389.4" fill="none" stroke="#c81e3e" stroke-width="1.5" stroke-linejoin="miter"/>
<path d="M228.7 352 V357" stroke="#c81e3e" stroke-width="1.0"/>
<path d="M242.4 352 V357" stroke="#c81e3e" stroke-width="1.0"/>
<path d="M239.9 372.1 H244.9 M239.9 354.5 H244.9" stroke="#c81e3e" stroke-width="1.0"/>
<path d="M45 260.5 L45 274.7 L45.73 274.7 L45.73 280.02 L46.45 280.02 L46.45 285.35 L47.17 285.35 L47.17 290.68 L47.9 290.68 L47.9 296 L48.3 296 L48.3 298.3 L48.9 298.3 L48.9 302.45 L49.5 302.45 L49.5 306.6 L50.15 306.6 L50.15 312 L50.8 312 L50.8 317.4 L51.45 317.4 L51.45 322.85 L52.1 322.85 L52.1 328.3 L52.67 328.3 L52.67 332.43 L53.23 332.43 L53.23 336.57 L53.8 336.57 L53.8 340.7 L55.4 340.7 L55.4 345.7 L57.6 345.7 L57.6 346.6 L57.6 355.7 L58.7 355.7 L58.7 359.8 L62.1 359.8 L62.1 364.8 L68.7 364.8 L68.7 369.5 L78.2 369.5 L78.2 374 L84.1 374 L85.3 374 L85.3 378.9 L86.1 378.9 L86.1 383.6 L88.6 383.6 L88.6 388 L102.7 388 L102.7 393.3 L242.4 393.3" fill="none" stroke="#5e2c82" stroke-width="1.5" stroke-linejoin="miter"/>
<path d="M242.4 390.8 V395.8" stroke="#5e2c82" stroke-width="1.0"/>
<path d="M241.9 323.5 H244.7" stroke="#36b04c" stroke-width="1.5"/>
<path d="M241.9 334 H244.7" stroke="#1a5088" stroke-width="1.5"/>
<path d="M241.9 393.3 H244.7" stroke="#5e2c82" stroke-width="1.5"/>
<text x="24.3" y="450" font-size="7.7" text-anchor="start" fill="#36b04c" stroke="#36b04c" stroke-width="0.1" >N</text>
<rect x="31.8" y="446.7" width="5.2" height="2.0" fill="#36b04c" opacity="0.65"/>
<text x="45.2" y="450" font-size="7.7" text-anchor="middle" fill="#36b04c" stroke="#36b04c" stroke-width="0.1" >131</text>
<text x="64.95" y="450" font-size="7.7" text-anchor="middle" fill="#36b04c" stroke="#36b04c" stroke-width="0.1" >101</text>
<text x="84.7" y="450" font-size="7.7" text-anchor="middle" fill="#36b04c" stroke="#36b04c" stroke-width="0.1" >93</text>
<text x="104.45" y="450" font-size="7.7" text-anchor="middle" fill="#36b04c" stroke="#36b04c" stroke-width="0.1" >88</text>
<text x="124.2" y="450" font-size="7.7" text-anchor="middle" fill="#36b04c" stroke="#36b04c" stroke-width="0.1" >82</text>
<text x="143.95" y="450" font-size="7.7" text-anchor="middle" fill="#36b04c" stroke="#36b04c" stroke-width="0.1" >80</text>
<text x="163.7" y="450" font-size="7.7" text-anchor="middle" fill="#36b04c" stroke="#36b04c" stroke-width="0.1" >80</text>
<text x="183.45" y="450" font-size="7.7" text-anchor="middle" fill="#36b04c" stroke="#36b04c" stroke-width="0.1" >76</text>
<text x="203.2" y="450" font-size="7.7" text-anchor="middle" fill="#36b04c" stroke="#36b04c" stroke-width="0.1" >73</text>
<text x="222.95" y="450" font-size="7.7" text-anchor="middle" fill="#36b04c" stroke="#36b04c" stroke-width="0.1" >73</text>
<text x="242.7" y="450" font-size="7.7" text-anchor="middle" fill="#36b04c" stroke="#36b04c" stroke-width="0.1" >1</text>
<text x="24.3" y="458.4" font-size="7.7" text-anchor="start" fill="#1a5088" stroke="#1a5088" stroke-width="0.1" >N</text>
<rect x="31.8" y="455.1" width="5.2" height="2.0" fill="#1a5088" opacity="0.65"/>
<text x="45.2" y="458.4" font-size="7.7" text-anchor="middle" fill="#1a5088" stroke="#1a5088" stroke-width="0.1" >54</text>
<text x="64.95" y="458.4" font-size="7.7" text-anchor="middle" fill="#1a5088" stroke="#1a5088" stroke-width="0.1" >32</text>
<text x="84.7" y="458.4" font-size="7.7" text-anchor="middle" fill="#1a5088" stroke="#1a5088" stroke-width="0.1" >31</text>
<text x="104.45" y="458.4" font-size="7.7" text-anchor="middle" fill="#1a5088" stroke="#1a5088" stroke-width="0.1" >29</text>
<text x="124.2" y="458.4" font-size="7.7" text-anchor="middle" fill="#1a5088" stroke="#1a5088" stroke-width="0.1" >28</text>
<text x="143.95" y="458.4" font-size="7.7" text-anchor="middle" fill="#1a5088" stroke="#1a5088" stroke-width="0.1" >27</text>
<text x="163.7" y="458.4" font-size="7.7" text-anchor="middle" fill="#1a5088" stroke="#1a5088" stroke-width="0.1" >27</text>
<text x="183.45" y="458.4" font-size="7.7" text-anchor="middle" fill="#1a5088" stroke="#1a5088" stroke-width="0.1" >27</text>
<text x="203.2" y="458.4" font-size="7.7" text-anchor="middle" fill="#1a5088" stroke="#1a5088" stroke-width="0.1" >27</text>
<text x="222.95" y="458.4" font-size="7.7" text-anchor="middle" fill="#1a5088" stroke="#1a5088" stroke-width="0.1" >26</text>
<text x="24.3" y="466.8" font-size="7.7" text-anchor="start" fill="#c81e3e" stroke="#c81e3e" stroke-width="0.1" >N</text>
<rect x="31.8" y="463.5" width="5.2" height="2.0" fill="#c81e3e" opacity="0.65"/>
<text x="45.2" y="466.8" font-size="7.7" text-anchor="middle" fill="#c81e3e" stroke="#c81e3e" stroke-width="0.1" >292</text>
<text x="64.95" y="466.8" font-size="7.7" text-anchor="middle" fill="#c81e3e" stroke="#c81e3e" stroke-width="0.1" >196</text>
<text x="84.7" y="466.8" font-size="7.7" text-anchor="middle" fill="#c81e3e" stroke="#c81e3e" stroke-width="0.1" >167</text>
<text x="104.45" y="466.8" font-size="7.7" text-anchor="middle" fill="#c81e3e" stroke="#c81e3e" stroke-width="0.1" >138</text>
<text x="124.2" y="466.8" font-size="7.7" text-anchor="middle" fill="#c81e3e" stroke="#c81e3e" stroke-width="0.1" >124</text>
<text x="143.95" y="466.8" font-size="7.7" text-anchor="middle" fill="#c81e3e" stroke="#c81e3e" stroke-width="0.1" >119</text>
<text x="163.7" y="466.8" font-size="7.7" text-anchor="middle" fill="#c81e3e" stroke="#c81e3e" stroke-width="0.1" >117</text>
<text x="183.45" y="466.8" font-size="7.7" text-anchor="middle" fill="#c81e3e" stroke="#c81e3e" stroke-width="0.1" >114</text>
<text x="203.2" y="466.8" font-size="7.7" text-anchor="middle" fill="#c81e3e" stroke="#c81e3e" stroke-width="0.1" >111</text>
<text x="222.95" y="466.8" font-size="7.7" text-anchor="middle" fill="#c81e3e" stroke="#c81e3e" stroke-width="0.1" >106</text>
<text x="242.7" y="466.8" font-size="7.7" text-anchor="middle" fill="#c81e3e" stroke="#c81e3e" stroke-width="0.1" >3</text>
<text x="24.3" y="475.2" font-size="7.7" text-anchor="start" fill="#5e2c82" stroke="#5e2c82" stroke-width="0.1" >N</text>
<rect x="31.8" y="471.9" width="5.2" height="2.0" fill="#5e2c82" opacity="0.65"/>
<text x="45.2" y="475.2" font-size="7.7" text-anchor="middle" fill="#5e2c82" stroke="#5e2c82" stroke-width="0.1" >31</text>
<text x="64.95" y="475.2" font-size="7.7" text-anchor="middle" fill="#5e2c82" stroke="#5e2c82" stroke-width="0.1" >9</text>
<text x="84.7" y="475.2" font-size="7.7" text-anchor="middle" fill="#5e2c82" stroke="#5e2c82" stroke-width="0.1" >7</text>
<text x="104.45" y="475.2" font-size="7.7" text-anchor="middle" fill="#5e2c82" stroke="#5e2c82" stroke-width="0.1" >3</text>
<text x="124.2" y="475.2" font-size="7.7" text-anchor="middle" fill="#5e2c82" stroke="#5e2c82" stroke-width="0.1" >3</text>
<text x="143.95" y="475.2" font-size="7.7" text-anchor="middle" fill="#5e2c82" stroke="#5e2c82" stroke-width="0.1" >3</text>
<text x="163.7" y="475.2" font-size="7.7" text-anchor="middle" fill="#5e2c82" stroke="#5e2c82" stroke-width="0.1" >3</text>
<text x="183.45" y="475.2" font-size="7.7" text-anchor="middle" fill="#5e2c82" stroke="#5e2c82" stroke-width="0.1" >3</text>
<text x="203.2" y="475.2" font-size="7.7" text-anchor="middle" fill="#5e2c82" stroke="#5e2c82" stroke-width="0.1" >3</text>
<text x="222.95" y="475.2" font-size="7.7" text-anchor="middle" fill="#5e2c82" stroke="#5e2c82" stroke-width="0.1" >3</text>
<text x="275.1" y="253.3" font-size="11" font-weight="bold" fill="#000">D</text>
<path d="M303.4 256.2 V413.4 H513" fill="none" stroke="#231f20" stroke-width="1.4"/>
<path d="M300.2 407.6 H303.4" stroke="#231f20" stroke-width="0.9"/>
<text x="296.8" y="410.6" font-size="7.3" text-anchor="end" fill="#231f20" stroke="#231f20" stroke-width="0.1" >0.0</text>
<path d="M300.2 378.16 H303.4" stroke="#231f20" stroke-width="0.9"/>
<text x="296.8" y="381.16" font-size="7.3" text-anchor="end" fill="#231f20" stroke="#231f20" stroke-width="0.1" >0.2</text>
<path d="M300.2 348.72 H303.4" stroke="#231f20" stroke-width="0.9"/>
<text x="296.8" y="351.72" font-size="7.3" text-anchor="end" fill="#231f20" stroke="#231f20" stroke-width="0.1" >0.4</text>
<path d="M300.2 319.28 H303.4" stroke="#231f20" stroke-width="0.9"/>
<text x="296.8" y="322.28" font-size="7.3" text-anchor="end" fill="#231f20" stroke="#231f20" stroke-width="0.1" >0.6</text>
<path d="M300.2 289.84 H303.4" stroke="#231f20" stroke-width="0.9"/>
<text x="296.8" y="292.84" font-size="7.3" text-anchor="end" fill="#231f20" stroke="#231f20" stroke-width="0.1" >0.8</text>
<path d="M300.2 260.4 H303.4" stroke="#231f20" stroke-width="0.9"/>
<text x="296.8" y="263.4" font-size="7.3" text-anchor="end" fill="#231f20" stroke="#231f20" stroke-width="0.1" >1.0</text>
<path d="M311.8 413.4 V416.6" stroke="#231f20" stroke-width="0.9"/>
<text x="311.8" y="425.1" font-size="7.3" text-anchor="middle" fill="#231f20" stroke="#231f20" stroke-width="0.1" >0</text>
<path d="M331.51 413.4 V416.6" stroke="#231f20" stroke-width="0.9"/>
<text x="331.51" y="425.1" font-size="7.3" text-anchor="middle" fill="#231f20" stroke="#231f20" stroke-width="0.1" >6</text>
<path d="M351.22 413.4 V416.6" stroke="#231f20" stroke-width="0.9"/>
<text x="351.22" y="425.1" font-size="7.3" text-anchor="middle" fill="#231f20" stroke="#231f20" stroke-width="0.1" >12</text>
<path d="M370.93 413.4 V416.6" stroke="#231f20" stroke-width="0.9"/>
<text x="370.93" y="425.1" font-size="7.3" text-anchor="middle" fill="#231f20" stroke="#231f20" stroke-width="0.1" >18</text>
<path d="M390.64 413.4 V416.6" stroke="#231f20" stroke-width="0.9"/>
<text x="390.64" y="425.1" font-size="7.3" text-anchor="middle" fill="#231f20" stroke="#231f20" stroke-width="0.1" >24</text>
<path d="M410.35 413.4 V416.6" stroke="#231f20" stroke-width="0.9"/>
<text x="410.35" y="425.1" font-size="7.3" text-anchor="middle" fill="#231f20" stroke="#231f20" stroke-width="0.1" >30</text>
<path d="M430.06 413.4 V416.6" stroke="#231f20" stroke-width="0.9"/>
<text x="430.06" y="425.1" font-size="7.3" text-anchor="middle" fill="#231f20" stroke="#231f20" stroke-width="0.1" >36</text>
<path d="M449.77 413.4 V416.6" stroke="#231f20" stroke-width="0.9"/>
<text x="449.77" y="425.1" font-size="7.3" text-anchor="middle" fill="#231f20" stroke="#231f20" stroke-width="0.1" >42</text>
<path d="M469.48 413.4 V416.6" stroke="#231f20" stroke-width="0.9"/>
<text x="469.48" y="425.1" font-size="7.3" text-anchor="middle" fill="#231f20" stroke="#231f20" stroke-width="0.1" >48</text>
<path d="M489.19 413.4 V416.6" stroke="#231f20" stroke-width="0.9"/>
<text x="489.19" y="425.1" font-size="7.3" text-anchor="middle" fill="#231f20" stroke="#231f20" stroke-width="0.1" >54</text>
<path d="M508.9 413.4 V416.6" stroke="#231f20" stroke-width="0.9"/>
<text x="508.9" y="425.1" font-size="7.3" text-anchor="middle" fill="#231f20" stroke="#231f20" stroke-width="0.1" >60</text>
<text transform="translate(410.35 438) scale(0.6986 1)" font-size="9" text-anchor="middle" fill="#231f20" stroke="#231f20" stroke-width="0.22">Months from lymphoma diagnosis</text>
<text transform="translate(279.6 334) rotate(-90) scale(0.6876 1)" font-size="9" text-anchor="middle" fill="#231f20" stroke="#231f20" stroke-width="0.18">Overall survival</text>
<text x="389.4" y="264.5" font-size="8.0" fill="#231f20" stroke="#231f20" stroke-width="0.1">2010–2016</text>
<path d="M457 259.5 H465" stroke="#36b04c" stroke-width="1.5"/>
<text x="469.5" y="262" font-size="6.8" text-anchor="start" fill="#231f20" stroke="#231f20" stroke-width="0.1" >Hodgkin’s</text>
<path d="M457 267.4 H465" stroke="#1a5088" stroke-width="1.5"/>
<text x="469.5" y="269.9" font-size="6.8" text-anchor="start" fill="#231f20" stroke="#231f20" stroke-width="0.1" >Burkitts</text>
<path d="M457 275.4 H465" stroke="#c81e3e" stroke-width="1.5"/>
<text x="469.5" y="277.9" font-size="6.8" text-anchor="start" fill="#231f20" stroke="#231f20" stroke-width="0.1" >DLBCL</text>
<path d="M457 283.4 H465" stroke="#5e2c82" stroke-width="1.5"/>
<text x="469.5" y="285.9" font-size="6.8" text-anchor="start" fill="#231f20" stroke="#231f20" stroke-width="0.1" >Primary CNS</text>
<text x="307.0" y="408.9" font-size="7.3" fill="#231f20" stroke="#231f20" stroke-width="0.1" textLength="86.7" lengthAdjust="spacingAndGlyphs">Log-rank p value = 0.0006</text>
<path d="M311.6 260.4 L311.6 263 L311.8 263 L311.8 264.1 L312 264.1 L312 265.2 L312.2 265.2 L312.2 266.3 L312.4 266.3 L312.4 267.4 L312.6 267.4 L312.6 268.5 L312.95 268.5 L312.95 269.45 L313.3 269.45 L313.3 270.4 L313.8 270.4 L313.8 271.43 L314.3 271.43 L314.3 272.47 L314.8 272.47 L314.8 273.5 L315.75 273.5 L315.75 274.75 L316.7 274.75 L316.7 276 L317.02 276 L317.02 276.93 L317.35 276.93 L317.35 277.85 L317.68 277.85 L317.68 278.77 L318 278.77 L318 279.7 L318.8 279.7 L318.8 280.73 L319.6 280.73 L319.6 281.77 L320.4 281.77 L320.4 282.8 L321.65 282.8 L321.65 283.75 L322.9 283.75 L322.9 284.7 L323.73 284.7 L323.73 285.73 L324.57 285.73 L324.57 286.77 L325.4 286.77 L325.4 287.8 L325.88 287.8 L325.88 288.73 L326.35 288.73 L326.35 289.65 L326.82 289.65 L326.82 290.57 L327.3 290.57 L327.3 291.5 L327.77 291.5 L327.77 292.43 L328.25 292.43 L328.25 293.35 L328.73 293.35 L328.73 294.27 L329.2 294.27 L329.2 295.2 L330.06 295.2 L330.06 296.32 L330.92 296.32 L330.92 297.44 L331.78 297.44 L331.78 298.56 L332.64 298.56 L332.64 299.68 L333.5 299.68 L333.5 300.8 L338.1 300.8 L338.1 302.3 L338.86 302.3 L338.86 303.38 L339.62 303.38 L339.62 304.46 L340.38 304.46 L340.38 305.54 L341.14 305.54 L341.14 306.62 L341.9 306.62 L341.9 307.7 L347.3 307.7 L347.3 308.5 L348.45 308.5 L348.45 309.65 L349.6 309.65 L349.6 310.8 L350.75 310.8 L350.75 311.95 L351.9 311.95 L351.9 313.1 L353.05 313.1 L353.05 314.25 L354.2 314.25 L354.2 315.4 L355.35 315.4 L355.35 316.55 L356.5 316.55 L356.5 317.7 L359.07 317.7 L359.07 318.73 L361.63 318.73 L361.63 319.77 L364.2 319.77 L364.2 320.8 L368.05 320.8 L368.05 321.95 L371.9 321.95 L371.9 323.1 L375 323.1 L375 324.6 L386.6 324.6 L386.6 326.6 L404 326.6 L405.5 326.6 L405.5 328.1 L418.6 328.1 L418.6 329.5 L422 329.5 L422 331 L478.1 331 L479.6 331 L479.6 332.4 L508.6 332.4" fill="none" stroke="#c81e3e" stroke-width="1.5" stroke-linejoin="miter"/>
<path d="M330.4 295.2 V300.2" stroke="#c81e3e" stroke-width="1.0"/>
<path d="M333.5 299.3 V304.3" stroke="#c81e3e" stroke-width="1.0"/>
<path d="M336.5 299.3 V304.3" stroke="#c81e3e" stroke-width="1.0"/>
<path d="M338.1 299.3 V304.3" stroke="#c81e3e" stroke-width="1.0"/>
<path d="M342.7 305.6 V310.6" stroke="#c81e3e" stroke-width="1.0"/>
<path d="M345.8 305.6 V310.6" stroke="#c81e3e" stroke-width="1.0"/>
<path d="M353.5 313 V318" stroke="#c81e3e" stroke-width="1.0"/>
<path d="M355.3 313 V318" stroke="#c81e3e" stroke-width="1.0"/>
<path d="M358.8 315.4 V320.4" stroke="#c81e3e" stroke-width="1.0"/>
<path d="M364.2 318.3 V323.3" stroke="#c81e3e" stroke-width="1.0"/>
<path d="M374.2 322.1 V327.1" stroke="#c81e3e" stroke-width="1.0"/>
<path d="M378.8 322.1 V327.1" stroke="#c81e3e" stroke-width="1.0"/>
<path d="M382.7 322.1 V327.1" stroke="#c81e3e" stroke-width="1.0"/>
<path d="M404.04 326 V331" stroke="#c81e3e" stroke-width="1.0"/>
<path d="M412.76 326 V331" stroke="#c81e3e" stroke-width="1.0"/>
<path d="M415.66 326 V331" stroke="#c81e3e" stroke-width="1.0"/>
<path d="M417.99 326 V331" stroke="#c81e3e" stroke-width="1.0"/>
<path d="M419.15 326 V331" stroke="#c81e3e" stroke-width="1.0"/>
<path d="M421.47 326 V331" stroke="#c81e3e" stroke-width="1.0"/>
<path d="M422.92 326 V331" stroke="#c81e3e" stroke-width="1.0"/>
<path d="M434.54 328.5 V333.5" stroke="#c81e3e" stroke-width="1.0"/>
<path d="M442.38 328.5 V333.5" stroke="#c81e3e" stroke-width="1.0"/>
<path d="M444.71 328.5 V333.5" stroke="#c81e3e" stroke-width="1.0"/>
<path d="M447.03 328.5 V333.5" stroke="#c81e3e" stroke-width="1.0"/>
<path d="M449.93 328.5 V333.5" stroke="#c81e3e" stroke-width="1.0"/>
<path d="M456.91 328.5 V333.5" stroke="#c81e3e" stroke-width="1.0"/>
<path d="M459.23 328.5 V333.5" stroke="#c81e3e" stroke-width="1.0"/>
<path d="M461.55 328.5 V333.5" stroke="#c81e3e" stroke-width="1.0"/>
<path d="M463.59 328.5 V333.5" stroke="#c81e3e" stroke-width="1.0"/>
<path d="M465.62 328.5 V333.5" stroke="#c81e3e" stroke-width="1.0"/>
<path d="M467.94 328.5 V333.5" stroke="#c81e3e" stroke-width="1.0"/>
<path d="M470.27 328.5 V333.5" stroke="#c81e3e" stroke-width="1.0"/>
<path d="M473.75 328.5 V333.5" stroke="#c81e3e" stroke-width="1.0"/>
<path d="M476.66 328.5 V333.5" stroke="#c81e3e" stroke-width="1.0"/>
<path d="M483.92 329.9 V334.9" stroke="#c81e3e" stroke-width="1.0"/>
<path d="M488.27 329.9 V334.9" stroke="#c81e3e" stroke-width="1.0"/>
<path d="M492.63 329.9 V334.9" stroke="#c81e3e" stroke-width="1.0"/>
<path d="M498.44 329.9 V334.9" stroke="#c81e3e" stroke-width="1.0"/>
<path d="M502.8 329.9 V334.9" stroke="#c81e3e" stroke-width="1.0"/>
<path d="M506.28 329.9 V334.9" stroke="#c81e3e" stroke-width="1.0"/>
<path d="M509.19 329.9 V334.9" stroke="#c81e3e" stroke-width="1.0"/>
<path d="M311.6 260.4 L311.6 273.4 L315.5 273.4 L315.5 277.2 L320.1 277.2 L320.1 282 L337.3 282 L337.3 281.9 L337.3 286.6 L343.2 286.6 L343.2 291 L351.2 291 L351.2 295.6 L365.6 295.6 L365.6 300.6 L438.3 300.6 L438.3 307.2 L508.6 307.2" fill="none" stroke="#1a5088" stroke-width="1.5" stroke-linejoin="miter"/>
<path d="M324 279.4 V284.4" stroke="#1a5088" stroke-width="1.0"/>
<path d="M363.5 293.1 V298.1" stroke="#1a5088" stroke-width="1.0"/>
<path d="M388.07 298.1 V303.1" stroke="#1a5088" stroke-width="1.0"/>
<path d="M395.91 298.1 V303.1" stroke="#1a5088" stroke-width="1.0"/>
<path d="M403.46 298.1 V303.1" stroke="#1a5088" stroke-width="1.0"/>
<path d="M423.79 298.1 V303.1" stroke="#1a5088" stroke-width="1.0"/>
<path d="M424.96 298.1 V303.1" stroke="#1a5088" stroke-width="1.0"/>
<path d="M441.22 304.7 V309.7" stroke="#1a5088" stroke-width="1.0"/>
<path d="M449.06 304.7 V309.7" stroke="#1a5088" stroke-width="1.0"/>
<path d="M456.32 304.7 V309.7" stroke="#1a5088" stroke-width="1.0"/>
<path d="M462.71 304.7 V309.7" stroke="#1a5088" stroke-width="1.0"/>
<path d="M470.85 304.7 V309.7" stroke="#1a5088" stroke-width="1.0"/>
<path d="M488.27 304.7 V309.7" stroke="#1a5088" stroke-width="1.0"/>
<path d="M499.89 304.7 V309.7" stroke="#1a5088" stroke-width="1.0"/>
<path d="M505.5 304.7 V309.7" stroke="#1a5088" stroke-width="1.0"/>
<path d="M508.4 304.7 V309.7" stroke="#1a5088" stroke-width="1.0"/>
<path d="M311.6 260.4 L311.6 262 L312.03 262 L312.03 263.8 L312.47 263.8 L312.47 265.6 L312.9 265.6 L312.9 267.4 L313.7 267.4 L313.7 269.9 L316.1 269.9 L316.1 270.4 L318 270.4 L318 272.2 L322.9 272.2 L323.6 272.2 L323.6 274.1 L327.9 274.1 L328.85 274.1 L328.85 275.65 L329.8 275.65 L329.8 277.2 L331.05 277.2 L331.05 279.05 L332.3 279.05 L332.3 280.9 L333.2 280.9 L333.2 281.3 L340.7 281.3 L342.3 281.3 L342.3 283.2 L343.7 283.2 L343.7 285.8 L387 285.8 L388.3 285.8 L388.3 287.25 L389.6 287.25 L389.6 288.7 L415.1 288.7 L415.4 288.7 L415.4 290.1 L415.7 290.1 L415.7 291.5 L508.6 291.5" fill="none" stroke="#36b04c" stroke-width="1.5" stroke-linejoin="miter"/>
<path d="M319.5 269.7 V274.7" stroke="#36b04c" stroke-width="1.0"/>
<path d="M320.7 269.7 V274.7" stroke="#36b04c" stroke-width="1.0"/>
<path d="M321.8 269.7 V274.7" stroke="#36b04c" stroke-width="1.0"/>
<path d="M334.2 278.8 V283.8" stroke="#36b04c" stroke-width="1.0"/>
<path d="M336 278.8 V283.8" stroke="#36b04c" stroke-width="1.0"/>
<path d="M338.5 278.8 V283.8" stroke="#36b04c" stroke-width="1.0"/>
<path d="M340.8 278.8 V283.8" stroke="#36b04c" stroke-width="1.0"/>
<path d="M342 278.8 V283.8" stroke="#36b04c" stroke-width="1.0"/>
<path d="M347.2 283.3 V288.3" stroke="#36b04c" stroke-width="1.0"/>
<path d="M351.5 283.3 V288.3" stroke="#36b04c" stroke-width="1.0"/>
<path d="M355.3 283.3 V288.3" stroke="#36b04c" stroke-width="1.0"/>
<path d="M360.2 283.3 V288.3" stroke="#36b04c" stroke-width="1.0"/>
<path d="M365.4 283.3 V288.3" stroke="#36b04c" stroke-width="1.0"/>
<path d="M369.7 283.3 V288.3" stroke="#36b04c" stroke-width="1.0"/>
<path d="M374 283.3 V288.3" stroke="#36b04c" stroke-width="1.0"/>
<path d="M375.4 283.3 V288.3" stroke="#36b04c" stroke-width="1.0"/>
<path d="M376.6 283.3 V288.3" stroke="#36b04c" stroke-width="1.0"/>
<path d="M378.3 283.3 V288.3" stroke="#36b04c" stroke-width="1.0"/>
<path d="M380.6 283.3 V288.3" stroke="#36b04c" stroke-width="1.0"/>
<path d="M385.8 283.3 V288.3" stroke="#36b04c" stroke-width="1.0"/>
<path d="M388.7 286.2 V291.2" stroke="#36b04c" stroke-width="1.0"/>
<path d="M389.9 286.2 V291.2" stroke="#36b04c" stroke-width="1.0"/>
<path d="M399 286.2 V291.2" stroke="#36b04c" stroke-width="1.0"/>
<path d="M400.4 286.2 V291.2" stroke="#36b04c" stroke-width="1.0"/>
<path d="M424.38 289 V294" stroke="#36b04c" stroke-width="1.0"/>
<path d="M426.7 289 V294" stroke="#36b04c" stroke-width="1.0"/>
<path d="M428.73 289 V294" stroke="#36b04c" stroke-width="1.0"/>
<path d="M430.18 289 V294" stroke="#36b04c" stroke-width="1.0"/>
<path d="M436.57 289 V294" stroke="#36b04c" stroke-width="1.0"/>
<path d="M442.38 289 V294" stroke="#36b04c" stroke-width="1.0"/>
<path d="M446.16 289 V294" stroke="#36b04c" stroke-width="1.0"/>
<path d="M451.1 289 V294" stroke="#36b04c" stroke-width="1.0"/>
<path d="M456.32 289 V294" stroke="#36b04c" stroke-width="1.0"/>
<path d="M458.65 289 V294" stroke="#36b04c" stroke-width="1.0"/>
<path d="M460.68 289 V294" stroke="#36b04c" stroke-width="1.0"/>
<path d="M462.71 289 V294" stroke="#36b04c" stroke-width="1.0"/>
<path d="M473.75 289 V294" stroke="#36b04c" stroke-width="1.0"/>
<path d="M484.79 289 V294" stroke="#36b04c" stroke-width="1.0"/>
<path d="M486.82 289 V294" stroke="#36b04c" stroke-width="1.0"/>
<path d="M488.85 289 V294" stroke="#36b04c" stroke-width="1.0"/>
<path d="M494.08 289 V294" stroke="#36b04c" stroke-width="1.0"/>
<path d="M496.41 289 V294" stroke="#36b04c" stroke-width="1.0"/>
<path d="M502.8 289 V294" stroke="#36b04c" stroke-width="1.0"/>
<path d="M505.5 289 V294" stroke="#36b04c" stroke-width="1.0"/>
<path d="M508.4 289 V294" stroke="#36b04c" stroke-width="1.0"/>
<path d="M311.8 260.4 L315.3 260.4 L315.3 309.3 L351.2 309.3 L351.2 342 L441.8 342 L441.8 407.6" fill="none" stroke="#5e2c82" stroke-width="1.5" stroke-linejoin="miter"/>
<path d="M323.9 306.8 V311.8" stroke="#5e2c82" stroke-width="1.0"/>
<path d="M436.6 339.5 V344.5" stroke="#5e2c82" stroke-width="1.0"/>
<path d="M508.1 291.5 H510.9" stroke="#36b04c" stroke-width="1.5"/>
<path d="M508.1 307.2 H510.9" stroke="#1a5088" stroke-width="1.5"/>
<path d="M508.1 332.4 H510.9" stroke="#c81e3e" stroke-width="1.5"/>
<text x="291.1" y="450" font-size="7.7" text-anchor="start" fill="#36b04c" stroke="#36b04c" stroke-width="0.1" >N</text>
<rect x="298.5" y="446.7" width="5.2" height="2.0" fill="#36b04c" opacity="0.65"/>
<text x="311.8" y="450" font-size="7.7" text-anchor="middle" fill="#36b04c" stroke="#36b04c" stroke-width="0.1" >84</text>
<text x="331.51" y="450" font-size="7.7" text-anchor="middle" fill="#36b04c" stroke="#36b04c" stroke-width="0.1" >69</text>
<text x="351.22" y="450" font-size="7.7" text-anchor="middle" fill="#36b04c" stroke="#36b04c" stroke-width="0.1" >60</text>
<text x="370.93" y="450" font-size="7.7" text-anchor="middle" fill="#36b04c" stroke="#36b04c" stroke-width="0.1" >54</text>
<text x="390.64" y="450" font-size="7.7" text-anchor="middle" fill="#36b04c" stroke="#36b04c" stroke-width="0.1" >45</text>
<text x="410.35" y="450" font-size="7.7" text-anchor="middle" fill="#36b04c" stroke="#36b04c" stroke-width="0.1" >40</text>
<text x="430.06" y="450" font-size="7.7" text-anchor="middle" fill="#36b04c" stroke="#36b04c" stroke-width="0.1" >33</text>
<text x="449.77" y="450" font-size="7.7" text-anchor="middle" fill="#36b04c" stroke="#36b04c" stroke-width="0.1" >26</text>
<text x="469.48" y="450" font-size="7.7" text-anchor="middle" fill="#36b04c" stroke="#36b04c" stroke-width="0.1" >18</text>
<text x="489.19" y="450" font-size="7.7" text-anchor="middle" fill="#36b04c" stroke="#36b04c" stroke-width="0.1" >14</text>
<text x="291.1" y="458.4" font-size="7.7" text-anchor="start" fill="#1a5088" stroke="#1a5088" stroke-width="0.1" >N</text>
<rect x="298.5" y="455.1" width="5.2" height="2.0" fill="#1a5088" opacity="0.65"/>
<text x="311.8" y="458.4" font-size="7.7" text-anchor="middle" fill="#1a5088" stroke="#1a5088" stroke-width="0.1" >34</text>
<text x="331.51" y="458.4" font-size="7.7" text-anchor="middle" fill="#1a5088" stroke="#1a5088" stroke-width="0.1" >27</text>
<text x="351.22" y="458.4" font-size="7.7" text-anchor="middle" fill="#1a5088" stroke="#1a5088" stroke-width="0.1" >25</text>
<text x="370.93" y="458.4" font-size="7.7" text-anchor="middle" fill="#1a5088" stroke="#1a5088" stroke-width="0.1" >22</text>
<text x="390.64" y="458.4" font-size="7.7" text-anchor="middle" fill="#1a5088" stroke="#1a5088" stroke-width="0.1" >21</text>
<text x="410.35" y="458.4" font-size="7.7" text-anchor="middle" fill="#1a5088" stroke="#1a5088" stroke-width="0.1" >19</text>
<text x="430.06" y="458.4" font-size="7.7" text-anchor="middle" fill="#1a5088" stroke="#1a5088" stroke-width="0.1" >17</text>
<text x="449.77" y="458.4" font-size="7.7" text-anchor="middle" fill="#1a5088" stroke="#1a5088" stroke-width="0.1" >14</text>
<text x="469.48" y="458.4" font-size="7.7" text-anchor="middle" fill="#1a5088" stroke="#1a5088" stroke-width="0.1" >11</text>
<text x="489.19" y="458.4" font-size="7.7" text-anchor="middle" fill="#1a5088" stroke="#1a5088" stroke-width="0.1" >10</text>
<text x="291.1" y="466.8" font-size="7.7" text-anchor="start" fill="#c81e3e" stroke="#c81e3e" stroke-width="0.1" >N</text>
<rect x="298.5" y="463.5" width="5.2" height="2.0" fill="#c81e3e" opacity="0.65"/>
<text x="311.8" y="466.8" font-size="7.7" text-anchor="middle" fill="#c81e3e" stroke="#c81e3e" stroke-width="0.1" >141</text>
<text x="331.51" y="466.8" font-size="7.7" text-anchor="middle" fill="#c81e3e" stroke="#c81e3e" stroke-width="0.1" >99</text>
<text x="351.22" y="466.8" font-size="7.7" text-anchor="middle" fill="#c81e3e" stroke="#c81e3e" stroke-width="0.1" >80</text>
<text x="370.93" y="466.8" font-size="7.7" text-anchor="middle" fill="#c81e3e" stroke="#c81e3e" stroke-width="0.1" >66</text>
<text x="390.64" y="466.8" font-size="7.7" text-anchor="middle" fill="#c81e3e" stroke="#c81e3e" stroke-width="0.1" >55</text>
<text x="410.35" y="466.8" font-size="7.7" text-anchor="middle" fill="#c81e3e" stroke="#c81e3e" stroke-width="0.1" >51</text>
<text x="430.06" y="466.8" font-size="7.7" text-anchor="middle" fill="#c81e3e" stroke="#c81e3e" stroke-width="0.1" >42</text>
<text x="449.77" y="466.8" font-size="7.7" text-anchor="middle" fill="#c81e3e" stroke="#c81e3e" stroke-width="0.1" >38</text>
<text x="469.48" y="466.8" font-size="7.7" text-anchor="middle" fill="#c81e3e" stroke="#c81e3e" stroke-width="0.1" >31</text>
<text x="489.19" y="466.8" font-size="7.7" text-anchor="middle" fill="#c81e3e" stroke="#c81e3e" stroke-width="0.1" >23</text>
<text x="291.1" y="475.2" font-size="7.7" text-anchor="start" fill="#5e2c82" stroke="#5e2c82" stroke-width="0.1" >N</text>
<rect x="298.5" y="471.9" width="5.2" height="2.0" fill="#5e2c82" opacity="0.65"/>
<text x="311.8" y="475.2" font-size="7.7" text-anchor="middle" fill="#5e2c82" stroke="#5e2c82" stroke-width="0.1" >6</text>
<text x="331.51" y="475.2" font-size="7.7" text-anchor="middle" fill="#5e2c82" stroke="#5e2c82" stroke-width="0.1" >3</text>
<text x="351.22" y="475.2" font-size="7.7" text-anchor="middle" fill="#5e2c82" stroke="#5e2c82" stroke-width="0.1" >2</text>
<text x="370.93" y="475.2" font-size="7.7" text-anchor="middle" fill="#5e2c82" stroke="#5e2c82" stroke-width="0.1" >2</text>
<text x="390.64" y="475.2" font-size="7.7" text-anchor="middle" fill="#5e2c82" stroke="#5e2c82" stroke-width="0.1" >2</text>
<text x="410.35" y="475.2" font-size="7.7" text-anchor="middle" fill="#5e2c82" stroke="#5e2c82" stroke-width="0.1" >2</text>
<text x="430.06" y="475.2" font-size="7.7" text-anchor="middle" fill="#5e2c82" stroke="#5e2c82" stroke-width="0.1" >2</text>
<text x="449.77" y="475.2" font-size="7.7" text-anchor="middle" fill="#5e2c82" stroke="#5e2c82" stroke-width="0.1" >2</text>
</svg></body></html>
